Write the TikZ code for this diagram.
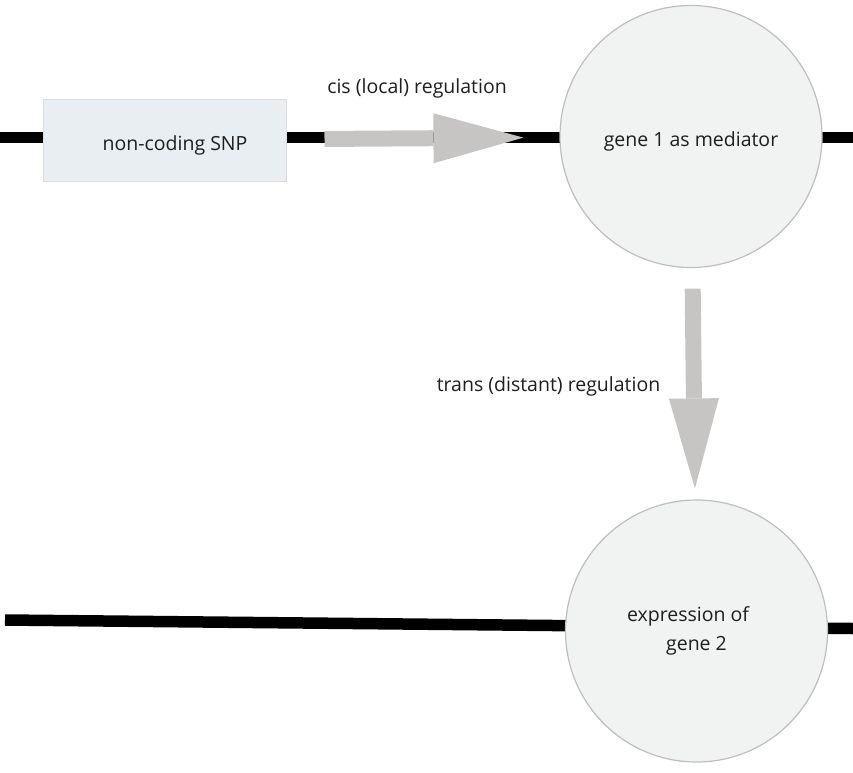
\documentclass[tikz,border=0pt]{standalone}
\usepackage{fontspec}
\setmainfont{Open Sans}
\usetikzlibrary{arrows.meta}
\definecolor{arrowgray}{RGB}{199,197,195}
\definecolor{genefill}{RGB}{241,242,242}
\definecolor{geneborder}{RGB}{190,190,190}
\definecolor{snpfill}{RGB}{233,238,242}
\definecolor{snpborder}{RGB}{218,220,222}
\definecolor{labeltext}{RGB}{30,30,30}
\newcommand{\labelfont}{\fontsize{19.5}{28.5}\selectfont}
\tikzset{
  strand/.style={line width=11.5pt, black},
  gene/.style={circle, fill=genefill, draw=geneborder, line width=1.2pt, minimum size=262pt, inner sep=0pt, font=\labelfont, text=labeltext, align=center},
  snpbox/.style={rectangle, fill=snpfill, draw=snpborder, line width=1pt, minimum width=243pt, minimum height=82pt, inner sep=0pt, font=\labelfont, text=labeltext},
  regarrow/.style={arrowgray, line width=16pt, -{Triangle[length=90pt, width=50pt, line width=0pt]}},
  reglabel/.style={anchor=base, font=\labelfont, text=labeltext, inner sep=0pt}
}
\begin{document}
\begin{tikzpicture}[x=1pt, y=-1pt]
    \useasboundingbox (0,0) rectangle (853,772);
    % 定義染色體線的端點
    \coordinate (topL) at (0,137.5);
    \coordinate (topR) at (853,137.5);
    \coordinate (botL) at (5,620);
    \coordinate (botR) at (853,628.5);

    % 畫出染色體線
    \draw[strand] (topL) -- (topR);
    \draw[strand] (botL) -- (botR);

    % 畫出節點
    \node[snpbox, text height=24.8pt, text depth=4.7pt] (snp) at (164.5,140) {\hspace*{21pt}non-coding SNP};
    \node[gene, text height=24pt, text depth=5pt] (gene1) at (691,136.5) {gene 1 as mediator};
    \node[gene] (gene2) at (696.5,631) {expression of\hspace*{17pt}\\gene 2};

    % 畫出調控箭頭
    \draw[regarrow, shorten <=38pt, shorten >=36pt] (snp) -- (gene1);
    \draw[regarrow, shorten <=20.5pt, shorten >=11pt] (gene1) -- (gene2);

    % 標籤
    \node[reglabel] (cis) at (417,93) {cis (local) regulation};
    \node[reglabel] (trans) at (548.5,391) {trans (distant) regulation};
\end{tikzpicture}
\end{document}
